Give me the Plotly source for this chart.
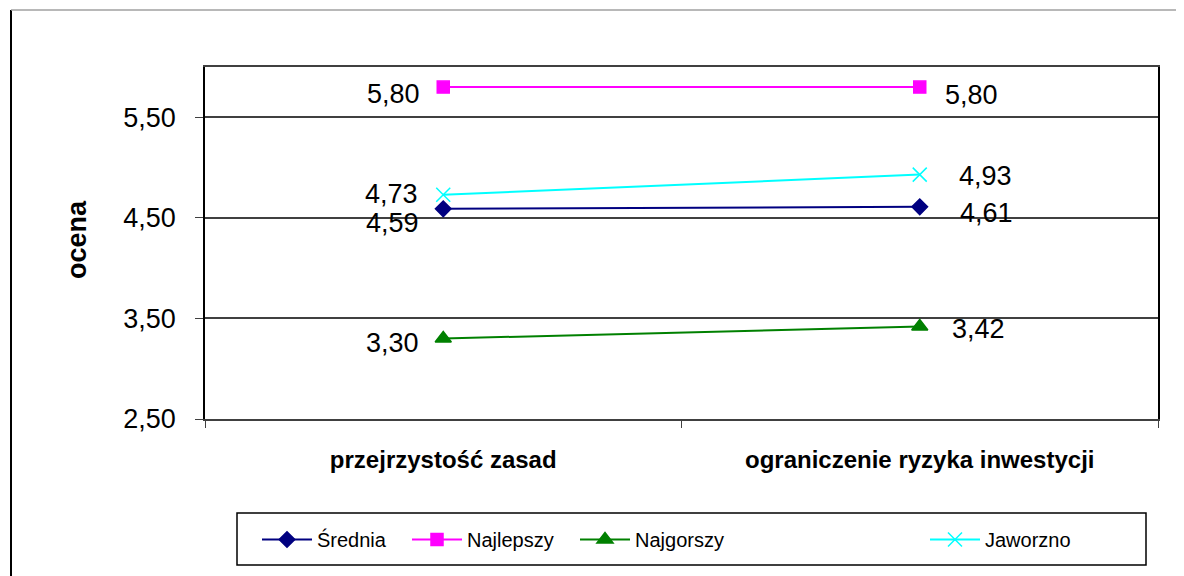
import plotly.graph_objects as go

categories = ["przejrzystość zasad", "ograniczenie ryzyka inwestycji"]
series_names = ["Średnia", "Najlepszy", "Najgorszy", "Jaworzno"]
srednia = [4.59, 4.61]
najlepszy = [5.80, 5.80]
najgorszy = [3.30, 3.42]
jaworzno = [4.73, 4.93]
y_ticks = [2.5, 3.5, 4.5, 5.5]

values = {"Średnia": srednia, "Najlepszy": najlepszy,
          "Najgorszy": najgorszy, "Jaworzno": jaworzno}
colors = {"Średnia": "#000080", "Najlepszy": "#FF00FF",
          "Najgorszy": "#008000", "Jaworzno": "#00FFFF"}
symbols = {"Średnia": "diamond", "Najlepszy": "square",
           "Najgorszy": "triangle-up", "Jaworzno": "x-thin-open"}
msize = {"Średnia": 12, "Najlepszy": 12, "Najgorszy": 14, "Jaworzno": 14}
# label placement per point: (xshift, yshift, xanchor)
label_pos = {
    "Średnia": [(-22, -14, "right"), (38, -6, "left")],
    "Najlepszy": [(-21, -7, "right"), (23, -8, "left")],
    "Najgorszy": [(-22, -4, "right"), (30, -3, "left")],
    "Jaworzno": [(-23, 1, "right"), (37, -1, "left")],
}
# legend entry line-start positions (screen px)
legend_starts = {"Średnia": 262, "Najlepszy": 412, "Najgorszy": 580, "Jaworzno": 930}
legend_ids = {"Średnia": "legend", "Najlepszy": "legend2",
              "Najgorszy": "legend3", "Jaworzno": "legend4"}

# the page body has an 8px margin: figure sits at (8, 8) in the window
OFF = 8
W, H = 1184 - OFF, 576 - OFF
PL, PT, PW, PH = 205, 67, 953, 352  # plot area in screen px
L, T = PL - OFF, PT - OFF
R, B = W - L - PW, H - T - PH


def px(xpix):
    return (xpix - PL) / PW


def py(ypix):
    return (PT + PH - ypix) / PH


FONT = "Liberation Sans, Arial"
fig = go.Figure()
annotations = []
for name in series_names:
    fig.add_trace(go.Scatter(
        x=categories, y=values[name], name=name, mode="lines+markers",
        line=dict(color=colors[name], width=2),
        marker=dict(symbol=symbols[name], size=msize[name], color=colors[name],
                    line=dict(color=colors[name], width=1.5)),
        legend=legend_ids[name],
    ))
    for i, (cat, v) in enumerate(zip(categories, values[name])):
        xs, ys, xa = label_pos[name][i]
        annotations.append(dict(
            x=cat, y=v, xref="x", yref="y", text=f"{v:.2f}".replace(".", ","),
            showarrow=False, xanchor=xa, yanchor="middle", xshift=xs, yshift=ys,
            font=dict(family=FONT, size=27, color="#000000")))

annotations.append(dict(
    x=px(77), y=py(240), xref="paper", yref="paper", text="<b>ocena</b>",
    textangle=-90, showarrow=False, xanchor="center", yanchor="middle",
    font=dict(family=FONT, size=27, color="#000000")))

shapes = [
    dict(type="line", xref="paper", yref="paper", x0=px(11), x1=px(11),
         y0=py(10), y1=py(580), line=dict(color="#000000", width=2)),
    dict(type="line", xref="paper", yref="paper", x0=px(11), x1=px(1190),
         y0=py(10), y1=py(10), line=dict(color="#A0A0A0", width=1.5)),
    dict(type="rect", xref="paper", yref="paper", x0=px(237), x1=px(1146),
         y0=py(565), y1=py(513), line=dict(color="#000000", width=1.5)),
]

layout_legends = {}
for name in series_names:
    layout_legends[legend_ids[name]] = dict(
        orientation="h", x=px(legend_starts[name] - 5), y=py(520),
        xanchor="left", yanchor="top", font=dict(size=20, family=FONT),
        itemwidth=50, bgcolor="rgba(0,0,0,0)")

fig.update_layout(
    width=W, height=H,
    margin=dict(l=L, r=R, t=T, b=B, pad=0),
    paper_bgcolor="white", plot_bgcolor="white",
    font=dict(family=FONT, color="#000000"),
    showlegend=True,
    annotations=annotations,
    shapes=shapes,
    xaxis=dict(type="category", range=[-0.5, 1.5], tickson="boundaries",
               tickvals=categories, ticktext=[f"<b>{c}</b>" for c in categories],
               ticks="outside", ticklen=7, tickcolor="#404040", showgrid=False,
               showline=True, linecolor="#404040", linewidth=2, mirror=True,
               tickfont=dict(size=24, family=FONT),
               ticklabelstandoff=18, zeroline=False),
    yaxis=dict(range=[2.5, 6.0], tickvals=y_ticks,
               ticktext=[f"{t:.2f}".replace(".", ",") for t in y_ticks],
               ticks="outside", ticklen=8, tickcolor="#404040",
               showgrid=True, gridcolor="#404040", gridwidth=1.5,
               showline=True, linecolor="#000000", linewidth=1.5, mirror=True,
               tickfont=dict(size=27, family=FONT),
               ticklabelstandoff=14, zeroline=False),
    **layout_legends,
)

fig.write_html("out.html")
